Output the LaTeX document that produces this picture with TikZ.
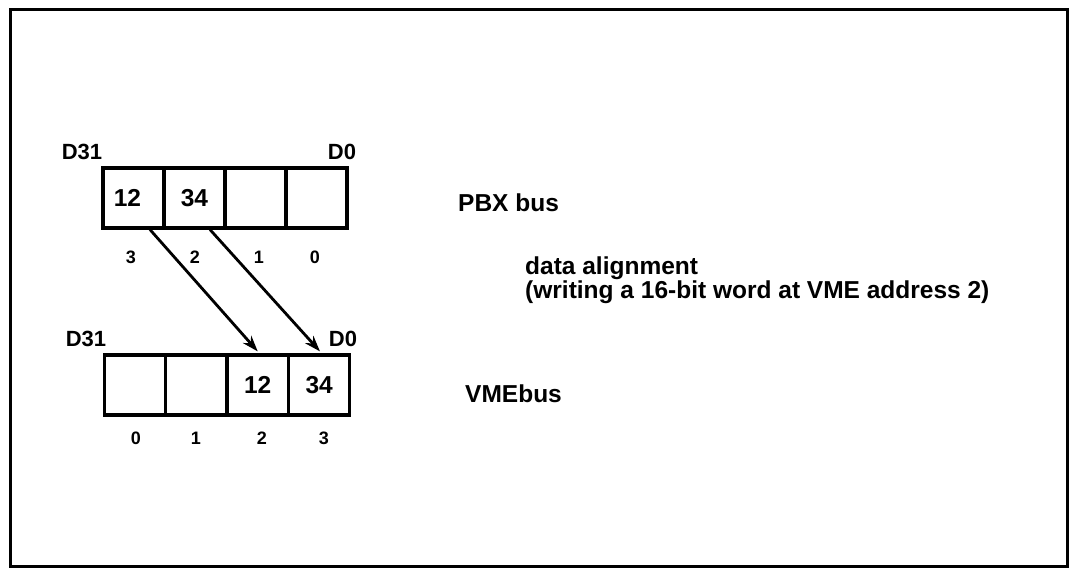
\documentclass[tikz,border=0pt]{standalone}
\usepackage{fontspec}
\setmainfont{Liberation Sans}
\usetikzlibrary{arrows.meta}
\begin{document}
\begin{tikzpicture}[x=1pt,y=-1pt,
  cell/.style={draw,line width=3.2pt,minimum width=61pt,minimum height=60pt,inner sep=0pt,
    font=\fontsize{24.5}{26}\selectfont\bfseries},
  big/.style={inner sep=0pt,anchor=base west,font=\fontsize{24.5}{26}\selectfont\bfseries},
  dlab/.style={inner sep=0pt,font=\fontsize{22}{24}\selectfont\bfseries},
  num/.style={inner sep=0pt,font=\fontsize{18}{20}\selectfont\bfseries},
  conn/.style={line width=2.8pt,-{Stealth[length=16pt,width=11pt]}}]
\useasboundingbox (0,0) rectangle (1069,568);
\draw[line width=3pt] (10,9) rectangle (1067,566);
% top (PBX) word
\node[cell] (t1) at (133.5,198) {\hspace*{-12pt}12};
\node[cell] (t2) at (194.5,198) {34};
\node[cell] (t3) at (255.5,198) {};
\node[cell] (t4) at (316.5,198) {};
\node[dlab] (td31) at (82,152) {D31};
\node[dlab] (td0) at (342,152) {D0};
\node[num] (tn3) at (131,257) {3};
\node[num] (tn2) at (195,257) {2};
\node[num] (tn1) at (259,257) {1};
\node[num] (tn0) at (315,257) {0};
% bottom (VME) word
\node[cell] (b1) at (134.75,385) {};
\node[cell] (b2) at (196.25,385) {};
\node[cell] (b3) at (257.75,385) {12};
\node[cell] (b4) at (319.25,385) {34};
\node[dlab] (bd31) at (86,339) {D31};
\node[dlab] (bd0) at (343,339) {D0};
\node[num] (bn0) at (136,438) {0};
\node[num] (bn1) at (196,438) {1};
\node[num] (bn2) at (262,438) {2};
\node[num] (bn3) at (324,438) {3};
% connectors
\draw[conn] ([xshift=16.5pt]t1.south) -- ([yshift=2pt]b3.north);
\draw[conn] ([xshift=15.5pt]t2.south) -- ([yshift=2pt,xshift=0.75pt]b4.north);
% texts
\node[big] (pbx) at (458,211) {PBX bus};
\node[big] (da1) at (525,274) {data alignment};
\node[big] (da2) at (525,298) {(writing a 16-bit word at VME address 2)};
\node[big] (vme) at (465,402) {VMEbus};
\end{tikzpicture}
\end{document}
